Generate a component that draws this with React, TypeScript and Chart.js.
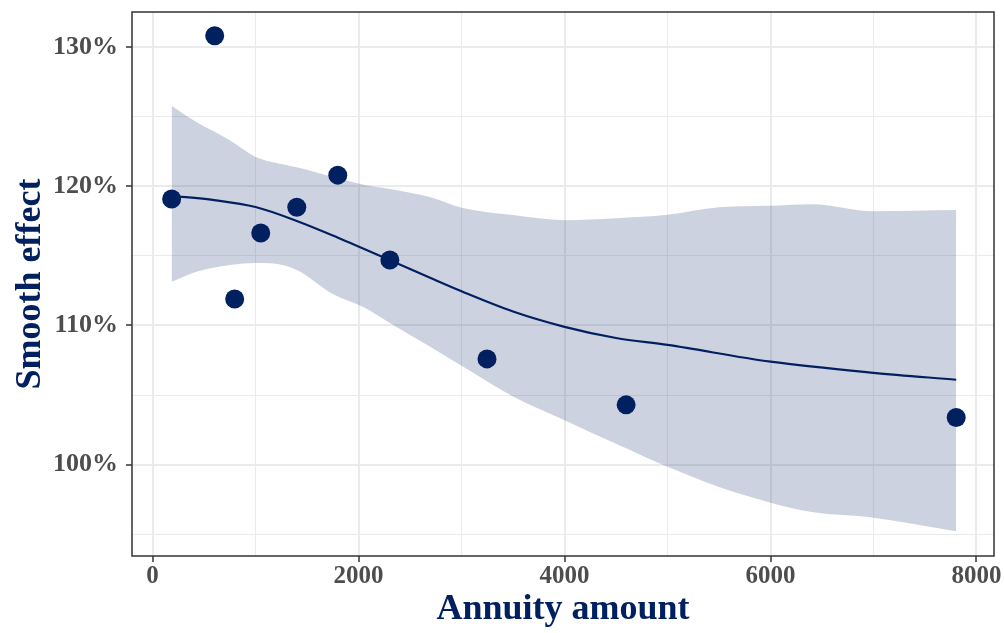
import { useEffect, useRef } from "react";
import { Chart, registerables } from "chart.js";

Chart.register(...registerables);

const NAVY = "#002060";
const BAND = "rgba(0, 32, 96, 0.2)";
const SERIF = "'Liberation Serif', 'Times New Roman', serif";

// Observed effects by annuity amount
const pointX = [185, 603, 797, 1050, 1400, 1798, 2304, 3247, 4598, 7803];
const pointY = [119.07, 130.79, 111.9, 116.63, 118.49, 120.79, 114.7, 107.6, 104.3, 103.39];

// Smoothed fit
const smoothX = [185, 600, 1000, 1400, 1800, 2300, 2700, 3000, 3500, 4000, 4500, 5000, 6000, 7000, 7803];
const smoothY = [119.3, 119.0, 118.5, 117.5, 116.3, 114.7, 113.4, 112.45, 111.0, 109.9, 109.1, 108.6, 107.4, 106.6, 106.1];

// Confidence band around the fit
const bandX = [185, 425, 750, 1000, 1150, 1400, 1750, 2050, 2300, 2700, 3000, 3500, 4000, 4500, 5000, 5500, 6000, 6400, 7000, 7803];
const bandUpper = [125.75, 124.6, 123.3, 122.1, 121.75, 121.35, 120.65, 120.1, 119.8, 119.2, 118.45, 117.92, 117.56, 117.7, 117.95, 118.49, 118.59, 118.7, 118.2, 118.28];
const bandLower = [113.14, 113.86, 114.34, 114.48, 114.46, 113.98, 112.25, 111.3, 110.2, 108.45, 107.1, 104.9, 103.2, 101.5, 99.85, 98.4, 97.28, 96.6, 96.2, 95.22];

// Axis ticks (majors labelled, minors only gridded)
const xTickValues = [0, 1000, 2000, 3000, 4000, 5000, 6000, 7000, 8000];
const yTickValues = [95, 100, 105, 110, 115, 120, 125, 130];

const toXY = (xs: number[], ys: number[]) => xs.map((x, i) => ({ x, y: ys[i] }));

const panelBorder = {
  id: "panelBorder",
  afterDatasetsDraw(chart: any) {
    const { ctx, chartArea } = chart;
    const { left, top, right, bottom } = chartArea;
    ctx.save();
    ctx.strokeStyle = "#333333";
    ctx.lineWidth = 1.5;
    ctx.strokeRect(left, top, right - left, bottom - top);
    ctx.restore();
  },
};

export default function App() {
  const ref = useRef<HTMLCanvasElement>(null);

  useEffect(() => {
    if (!ref.current) return;
    const isMajorX = (c: any) => c.tick && c.tick.value % 2000 === 0;
    const isMajorY = (c: any) => c.tick && c.tick.value % 10 === 0;

    const chart = new Chart(ref.current, {
      type: "scatter",
      data: {
        datasets: [
          {
            label: "upper",
            data: toXY(bandX, bandUpper),
            showLine: true,
            borderWidth: 0,
            borderColor: "rgba(0,0,0,0)",
            pointRadius: 0,
            cubicInterpolationMode: "monotone",
            fill: false,
            order: 3,
          },
          {
            label: "lower",
            data: toXY(bandX, bandLower),
            showLine: true,
            borderWidth: 0,
            borderColor: "rgba(0,0,0,0)",
            pointRadius: 0,
            cubicInterpolationMode: "monotone",
            fill: "-1",
            backgroundColor: BAND,
            order: 2,
          },
          {
            label: "fit",
            data: toXY(smoothX, smoothY),
            showLine: true,
            borderColor: NAVY,
            borderWidth: 2.2,
            pointRadius: 0,
            cubicInterpolationMode: "monotone",
            fill: false,
            order: 1,
          },
          {
            label: "effect",
            data: toXY(pointX, pointY),
            showLine: false,
            pointRadius: 9.5,
            pointBackgroundColor: NAVY,
            pointBorderColor: NAVY,
            pointBorderWidth: 0,
            order: 0,
          },
        ],
      },
      options: {
        animation: false,
        responsive: true,
        maintainAspectRatio: false,
        layout: { padding: { top: 12, right: 10, left: 0, bottom: 0 } },
        plugins: {
          legend: { display: false },
          tooltip: { enabled: false },
        },
        scales: {
          x: {
            type: "linear",
            min: -200,
            max: 8170,
            afterBuildTicks: (s: any) => {
              s.ticks = xTickValues.map((v) => ({ value: v }));
            },
            afterFit: (s: any) => {
              s.height = 77;
              s.paddingLeft = 0;
              s.paddingRight = 0;
            },
            border: { display: false },
            grid: {
              color: "#ebebeb",
              lineWidth: (c: any) => (isMajorX(c) ? 2 : 1),
              tickColor: (c: any) => (isMajorX(c) ? "#333333" : "rgba(0,0,0,0)"),
              tickLength: 6,
              tickWidth: 1.5,
            },
            ticks: {
              autoSkip: false,
              maxRotation: 0,
              padding: 0,
              color: "#4d4d4d",
              font: { family: SERIF, size: 25, weight: "bold" },
              callback: (v: any) => (Number(v) % 2000 === 0 ? String(v) : ""),
            },
            title: {
              display: true,
              text: "Annuity amount",
              color: NAVY,
              padding: { top: 0, bottom: 2 },
              font: { family: SERIF, size: 36, weight: "bold" },
            },
          },
          y: {
            type: "linear",
            min: 93.45,
            max: 132.5,
            afterBuildTicks: (s: any) => {
              s.ticks = yTickValues.map((v) => ({ value: v }));
            },
            afterFit: (s: any) => {
              s.width = 132;
              s.paddingTop = 0;
              s.paddingBottom = 0;
            },
            border: { display: false },
            grid: {
              color: "#ebebeb",
              lineWidth: (c: any) => (isMajorY(c) ? 2 : 1),
              tickColor: (c: any) => (isMajorY(c) ? "#333333" : "rgba(0,0,0,0)"),
              tickLength: 6,
              tickWidth: 1.5,
            },
            ticks: {
              autoSkip: false,
              padding: 8,
              color: "#4d4d4d",
              font: { family: SERIF, size: 26, weight: "bold" },
              callback: (v: any) => (Number(v) % 10 === 0 ? `${v}%` : ""),
            },
            title: {
              display: true,
              text: "Smooth effect",
              color: NAVY,
              padding: { top: 9, bottom: 0 },
              font: { family: SERIF, size: 36, weight: "bold" },
            },
          },
        },
      },
      plugins: [panelBorder],
    } as any);

    return () => chart.destroy();
  }, []);

  return (
    <div style={{ position: "fixed", left: 0, top: 0, width: 1004, height: 633, background: "#ffffff" }}>
      <canvas ref={ref} />
    </div>
  );
}
